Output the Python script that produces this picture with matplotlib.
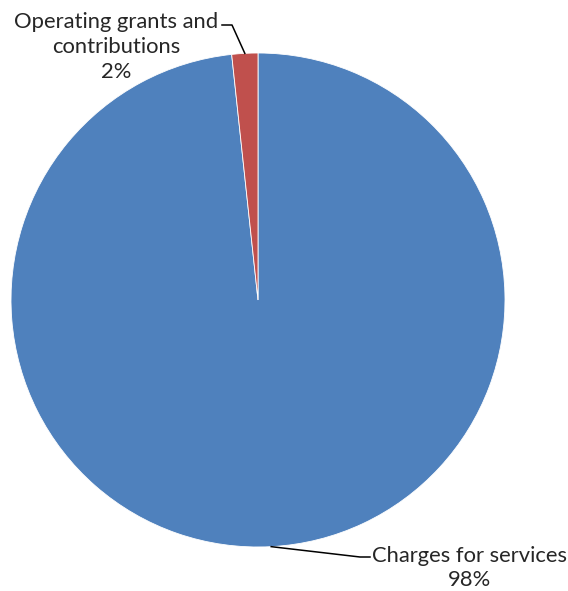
import numpy as np
import matplotlib
matplotlib.use('Agg')
import matplotlib.pyplot as plt
from matplotlib.lines import Line2D

# revenue shares (percent)
categories = ['Charges for services', 'Operating grants and\ncontributions']
shares = [98.3, 1.7]
pct_labels = ['98%', '2%']
colors = ['#4F81BD', '#C0504D']

plt.rcParams['font.family'] = ['Lato', 'DejaVu Sans']

W, H = 568, 591
fig = plt.figure(figsize=(W / 100, H / 100), dpi=100)
cx, cy, r = 258, 291, 247
ax = fig.add_axes([(cx - r) / W, (cy - r) / H, 2 * r / W, 2 * r / H])
wedges, _ = ax.pie(shares, colors=colors, startangle=90, counterclock=False,
                   radius=1, wedgeprops=dict(edgecolor='white', linewidth=0.6))
ax.set_xlim(-1, 1); ax.set_ylim(-1, 1)
ax.set_aspect('auto')
ax.axis('off')

# label placement in pixels from the bottom-left: text anchor, elbow, line end
text_xy = [(372, 23), (218, 544)]
aligns = ['left', 'right']
spacing = [1.2, 1.3]
elbows = [((360, 34), (370, 34)), ((232, 566), (222, 566))]

for i, w in enumerate(wedges):
    mid = np.deg2rad((w.theta1 + w.theta2) / 2)
    px, py = ax.transData.transform((np.cos(mid), np.sin(mid)))
    (ex, ey), (lx, ly) = elbows[i]
    fig.add_artist(Line2D([px, ex, lx], [py, ey, ly], transform=None,
                          color='black', lw=1.1))
    fig.text(text_xy[i][0] / W, text_xy[i][1] / H,
             categories[i] + '\n' + pct_labels[i],
             ha=aligns[i], va='center', multialignment='center',
             fontsize=15.8, color='#262626', linespacing=spacing[i])

fig.savefig('out.png', dpi=100)
